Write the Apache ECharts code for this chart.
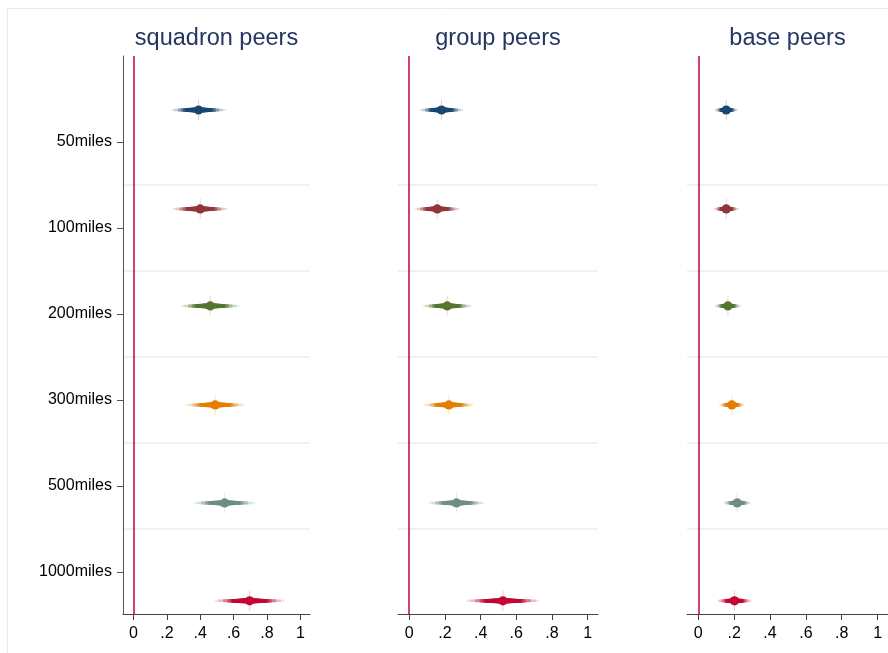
<!DOCTYPE html>
<html><head><meta charset="utf-8">
<script src="https://cdn.jsdelivr.net/npm/echarts@6/dist/echarts.min.js"></script>
<style>html,body{margin:0;padding:0;background:#fff}#c{width:888px;height:653px}</style>
</head><body><div id="c"></div>
<script>
// ---- data ----
const categories = ['50miles','100miles','200miles','300miles','500miles','1000miles'];
const panelTitles = ['squadron peers','group peers','base peers'];
// point estimates per panel (same order as categories)
const squadronEst = [0.390, 0.400, 0.460, 0.490, 0.546, 0.696];
const squadronSE  = [0.063, 0.064, 0.068, 0.069, 0.072, 0.081];
const groupEst    = [0.181, 0.157, 0.213, 0.222, 0.265, 0.525];
const groupSE     = [0.047, 0.049, 0.053, 0.054, 0.061, 0.079];
const baseEst     = [0.156, 0.156, 0.165, 0.187, 0.217, 0.202];
const baseSE      = [0.025, 0.027, 0.028, 0.028, 0.030, 0.037];
// vertical placement of each coefficient on the row scale (label rows are 1..6)
const rowPos = [0.628, 1.779, 2.907, 4.058, 5.198, 6.337];
const labelPos = [1, 2, 3, 4, 5, 6];
const tickValues = [0, 0.2, 0.4, 0.6, 0.8, 1];
const tickLabels = ['0', '.2', '.4', '.6', '.8', '1'];
// CI levels (z multipliers) used for the smoothed CI shading, outer to inner
const ciZ = [2.576, 2.326, 1.960, 1.645, 1.440, 1.282, 1.036, 0.842, 0.674, 0.524, 0.385, 0.253];
const palette = ['#1a476f', '#90353b', '#55752f', '#e37e00', '#6e8e84', '#c10534'];

const ests = [squadronEst, groupEst, baseEst];
const ses = [squadronSE, groupSE, baseSE];

function mix(hex, t) {
  const r = parseInt(hex.slice(1,3),16), g = parseInt(hex.slice(3,5),16), b = parseInt(hex.slice(5,7),16);
  const m = v => Math.round(255 - (255 - v) * t);
  return 'rgb(' + m(r) + ',' + m(g) + ',' + m(b) + ')';
}

const grids = [
  {left: 123, top: 56, width: 187, height: 558},
  {left: 398, top: 56, width: 200, height: 558},
  {left: 687, top: 56, width: 201, height: 558}
];
const xMin = -0.063, xMax = 1.058, yMax = 6.49;
const FONT = 'Liberation Sans, Arial, sans-serif';

const xAxes = grids.map((g, i) => ({
  type: 'value', gridIndex: i, min: xMin, max: xMax, z: 5,
  axisLine: {show: true, onZero: false, lineStyle: {color: '#444', width: 1}},
  axisTick: {show: true, customValues: tickValues, length: 6, lineStyle: {color: '#444'}},
  axisLabel: {show: true, customValues: tickValues, margin: 12, color: '#000', fontSize: 16,
    fontFamily: FONT,
    formatter: v => { const k = tickValues.findIndex(t => Math.abs(t - v) < 1e-6); return k >= 0 ? tickLabels[k] : ''; }},
  splitLine: {show: false}
}));

const yAxes = grids.map((g, i) => ({
  type: 'value', gridIndex: i, min: 0, max: yMax, inverse: true, z: 5,
  axisLine: {show: i === 0, onZero: false, lineStyle: {color: '#555', width: 1}},
  axisTick: {show: i === 0, customValues: labelPos, length: 6, lineStyle: {color: '#555'}},
  axisLabel: {show: i === 0, customValues: labelPos, margin: 11, color: '#000', fontSize: 16,
    fontFamily: FONT,
    formatter: v => { const k = Math.round(v) - 1; return categories[k] || ''; }},
  splitLine: {show: false}
}));

const gridLineVals = labelPos.slice(0, -1).map(v => v + 0.5);

function renderItem(params, api) {
  const est = api.value(0), pos = api.value(1), se = api.value(2), ci = api.value(3);
  const c = palette[ci];
  const children = [];
  const pc = api.coord([est, pos]);
  children.push({type: 'line', shape: {x1: pc[0], y1: pc[1] - 10, x2: pc[0], y2: pc[1] + 10},
    style: {stroke: mix(c, 0.22), lineWidth: 1}});
  ciZ.forEach(z => {
    const p1 = api.coord([est - z * se, pos]);
    const p2 = api.coord([est + z * se, pos]);
    const t = Math.max(0.12, Math.min(1, 1.9 - 0.7 * z));
    const w = Math.max(2, 5.6 - 1.35 * z);
    children.push({type: 'line', shape: {x1: p1[0], y1: p1[1], x2: p2[0], y2: p2[1]},
      style: {stroke: mix(c, t), lineWidth: w}});
  });
  children.push({type: 'circle', shape: {cx: pc[0], cy: pc[1], r: 4.6}, style: {fill: c}});
  return {type: 'group', children: children};
}

const series = [];
grids.forEach((g, i) => {
  series.push({
    type: 'line', xAxisIndex: i, yAxisIndex: i, data: [], silent: true, symbol: 'none', z: 0,
    markLine: {silent: true, symbol: 'none', label: {show: false}, animation: false,
      data: gridLineVals.map(v => ({yAxis: v, lineStyle: {color: '#e7eef2', width: 1.5, type: 'solid'}}))
        .concat([{xAxis: 0, lineStyle: {color: '#c10534', width: 1.5, type: 'solid'}}])}
  });
  series.push({
    type: 'custom', xAxisIndex: i, yAxisIndex: i, renderItem: renderItem, clip: false, z: 3,
    encode: {x: 0, y: 1},
    data: ests[i].map((e, k) => [e, rowPos[k], ses[i][k], k])
  });
});

const graphics = [
  {type: 'line', shape: {x1: 7, y1: 8.5, x2: 888, y2: 8.5}, style: {stroke: '#e6ecef', lineWidth: 1}},
  {type: 'line', shape: {x1: 7.5, y1: 8, x2: 7.5, y2: 653}, style: {stroke: '#e6ecef', lineWidth: 1}}
].concat(grids.map((g, i) => ({
  type: 'text', x: g.left + g.width / 2, y: 39,
  style: {text: panelTitles[i], fill: '#233560', fontSize: 23.5,
    fontFamily: FONT, textAlign: 'center', textVerticalAlign: 'middle'}
})));

const chart = echarts.init(document.getElementById('c'), null, {renderer: 'canvas'});
chart.setOption({
  animation: false,
  backgroundColor: '#fff',
  grid: grids,
  xAxis: xAxes,
  yAxis: yAxes,
  series: series,
  graphic: graphics
});
</script></body></html>
